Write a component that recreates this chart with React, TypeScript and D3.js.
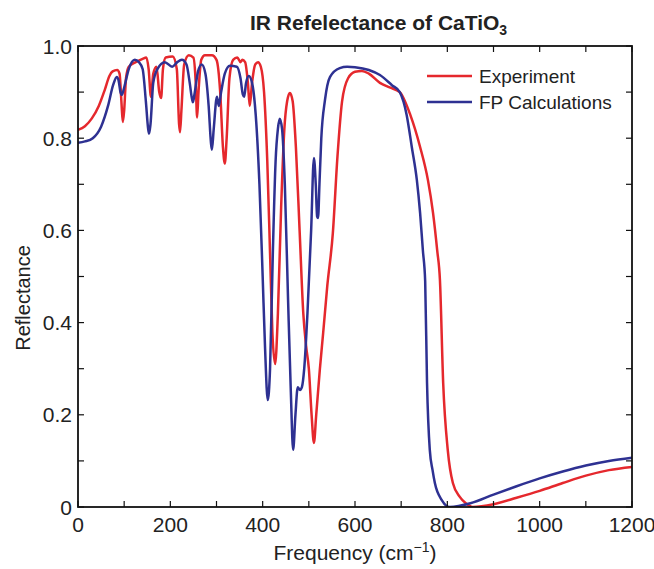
import React from "react";
import * as d3 from "d3";

const expFreq = [0, 15, 30, 45, 58, 68, 75, 85, 90, 94, 97, 100, 104, 110, 125, 140, 148, 153, 158, 163, 170, 176, 180, 184, 190, 205, 214, 219, 221, 224, 230, 240, 250, 255, 258, 261, 267, 275, 290, 300, 308, 314, 318, 322, 328, 336, 345, 352, 356, 362, 368, 372, 377, 384, 390, 396, 403, 410, 416, 421, 427, 433, 440, 447, 453, 459, 465, 472, 480, 488, 494, 500, 506, 511, 516, 524, 531, 540, 552, 562, 572, 585, 600, 615, 630, 654, 675, 697, 720, 741, 758, 769, 778, 784, 791, 801, 812, 827, 840, 855, 900, 950, 1000, 1050, 1100, 1150, 1200];
const expRefl = [0.818, 0.826, 0.843, 0.87, 0.905, 0.935, 0.945, 0.948, 0.94, 0.88, 0.835, 0.86, 0.93, 0.955, 0.965, 0.972, 0.975, 0.95, 0.89, 0.94, 0.955, 0.9, 0.887, 0.95, 0.975, 0.977, 0.95, 0.83, 0.813, 0.86, 0.96, 0.98, 0.975, 0.92, 0.845, 0.9, 0.97, 0.98, 0.98, 0.97, 0.9, 0.78, 0.745, 0.8, 0.93, 0.97, 0.975, 0.965, 0.97, 0.965, 0.92, 0.87, 0.92, 0.96, 0.965, 0.955, 0.9, 0.75, 0.55, 0.38, 0.31, 0.42, 0.65, 0.82, 0.88, 0.898, 0.88, 0.78, 0.6, 0.42, 0.35, 0.3, 0.2, 0.139, 0.2, 0.3, 0.377, 0.48, 0.594, 0.76, 0.88, 0.93, 0.944, 0.946, 0.94, 0.92, 0.91, 0.9, 0.85, 0.781, 0.709, 0.638, 0.557, 0.492, 0.269, 0.123, 0.052, 0.022, 0.008, 0.0, 0.006, 0.02, 0.035, 0.052, 0.068, 0.08, 0.087];

const fpFreq = [0, 15, 32, 50, 65, 76, 84, 88, 92, 95, 100, 110, 123, 132, 140, 147, 152, 154, 157, 163, 172, 188, 204, 215, 225, 235, 242, 247, 249, 253, 260, 268, 276, 283, 288, 290, 294, 301, 305, 310, 318, 329, 344, 352, 357, 360, 364, 370, 377, 385, 393, 400, 405, 411, 416, 422, 428, 433, 437, 442, 448, 455, 461, 466, 471, 476, 481, 485, 490, 497, 505, 511, 515, 518, 520, 523, 527, 535, 546, 567, 583, 600, 630, 654, 680, 697, 712, 723, 734, 741, 747, 752, 756, 762, 768, 773, 788, 805, 850, 900, 950, 1000, 1050, 1100, 1150, 1200];
const fpRefl = [0.79, 0.793, 0.8, 0.825, 0.87, 0.915, 0.933, 0.925, 0.9, 0.894, 0.91, 0.95, 0.97, 0.965, 0.95, 0.88, 0.82, 0.81, 0.83, 0.92, 0.95, 0.965, 0.955, 0.965, 0.97, 0.96, 0.92, 0.885, 0.878, 0.9, 0.945, 0.96, 0.94, 0.87, 0.79, 0.775, 0.82, 0.89, 0.87, 0.9, 0.94, 0.957, 0.955, 0.93, 0.895, 0.89, 0.92, 0.935, 0.92, 0.85, 0.7, 0.5, 0.35, 0.232, 0.3, 0.55, 0.75, 0.82, 0.842, 0.82, 0.7, 0.45, 0.25, 0.124, 0.2, 0.26, 0.254, 0.26, 0.3, 0.42, 0.6, 0.757, 0.7, 0.63, 0.627, 0.7, 0.8, 0.883, 0.933, 0.952, 0.955, 0.954, 0.948, 0.937, 0.915, 0.9, 0.85, 0.781, 0.709, 0.638, 0.557, 0.49, 0.27, 0.124, 0.08, 0.052, 0.015, 0.0, 0.008, 0.027, 0.045, 0.062, 0.077, 0.09, 0.1, 0.107];

const xMajorTicks = [0, 200, 400, 600, 800, 1000, 1200];
const yMajorTicks = [0, 0.2, 0.4, 0.6, 0.8, 1.0];
const yTickLabels = ["0", "0.2", "0.4", "0.6", "0.8", "1.0"];
const seriesNames = ["Experiment", "FP Calculations"];
const seriesColors = ["#e5282d", "#2e3192"];

const W = 654;
const H = 569;
const M = { left: 78, right: 632, top: 46, bottom: 507 };
const FONT = "'Liberation Sans', Arial, Helvetica, sans-serif";

export default function App() {
  const x = d3.scaleLinear().domain([0, 1200]).range([M.left, M.right]);
  const y = d3.scaleLinear().domain([0, 1]).range([M.bottom, M.top]);
  const line = d3
    .line<[number, number]>()
    .x((d) => x(d[0]))
    .y((d) => y(d[1]))
    .curve(d3.curveMonotoneX);

  const expPts = expFreq.map((f, i) => [f, expRefl[i]] as [number, number]);
  const fpPts = fpFreq.map((f, i) => [f, fpRefl[i]] as [number, number]);

  const xMinor = d3.range(0, 1201, 100);
  const yMinor = d3.range(0, 11).map((v) => v / 10);
  const tl = 6;

  return (
    <svg width={W} height={H} style={{ display: "block", position: "absolute", left: 0, top: 0 }}>
      <rect x={0} y={0} width={W} height={H} fill="#fff" />
      <text x={250} y={30} fontFamily={FONT} fontSize={21} fontWeight="bold" fill="#222">
        IR Refelectance of CaTiO
        <tspan fontSize={14} dy={5}>3</tspan>
      </text>

      <defs>
        <clipPath id="plotclip">
          <rect x={M.left} y={M.top - 2} width={M.right - M.left} height={M.bottom - M.top + 2} />
        </clipPath>
      </defs>

      <g clipPath="url(#plotclip)">
        <path d={line(expPts) || ""} fill="none" stroke={seriesColors[0]} strokeWidth={2.5} strokeLinejoin="round" />
        <path d={line(fpPts) || ""} fill="none" stroke={seriesColors[1]} strokeWidth={2.5} strokeLinejoin="round" />
      </g>

      <g stroke="#111" strokeWidth={1.2}>
        {xMinor.map((v) => (
          <g key={"xt" + v}>
            <line x1={x(v)} x2={x(v)} y1={M.bottom} y2={M.bottom - tl} />
            <line x1={x(v)} x2={x(v)} y1={M.top} y2={M.top + tl} />
          </g>
        ))}
        {yMinor.map((v) => (
          <g key={"yt" + v}>
            <line x1={M.left} x2={M.left + tl} y1={y(v)} y2={y(v)} />
            <line x1={M.right} x2={M.right - tl} y1={y(v)} y2={y(v)} />
          </g>
        ))}
      </g>
      <rect x={M.left} y={M.top} width={M.right - M.left} height={M.bottom - M.top} fill="none" stroke="#111" strokeWidth={1.8} />

      {xMajorTicks.map((v) => (
        <text key={"xl" + v} x={x(v)} y={532} textAnchor="middle" fontFamily={FONT} fontSize={21} fill="#222">
          {v}
        </text>
      ))}
      {yMajorTicks.map((v, i) => (
        <text key={"yl" + v} x={72} y={y(v) + 7.5} textAnchor="end" fontFamily={FONT} fontSize={21} fill="#222">
          {yTickLabels[i]}
        </text>
      ))}

      <text x={(M.left + M.right) / 2} y={560} textAnchor="middle" fontFamily={FONT} fontSize={21} fill="#222">
        Frequency (cm
        <tspan fontSize={14} dy={-8}>−1</tspan>
        <tspan dy={8}>)</tspan>
      </text>
      <text
        transform={`translate(30, 298) rotate(-90)`}
        textAnchor="middle"
        fontFamily={FONT}
        fontSize={20}
        fill="#222"
      >
        Reflectance
      </text>

      {seriesNames.map((n, i) => (
        <g key={n}>
          <line x1={427} x2={472} y1={76 + i * 26} y2={76 + i * 26} stroke={seriesColors[i]} strokeWidth={2.5} />
          <text x={479} y={83 + i * 26} fontFamily={FONT} fontSize={19} fill="#222">
            {n}
          </text>
        </g>
      ))}
    </svg>
  );
}
